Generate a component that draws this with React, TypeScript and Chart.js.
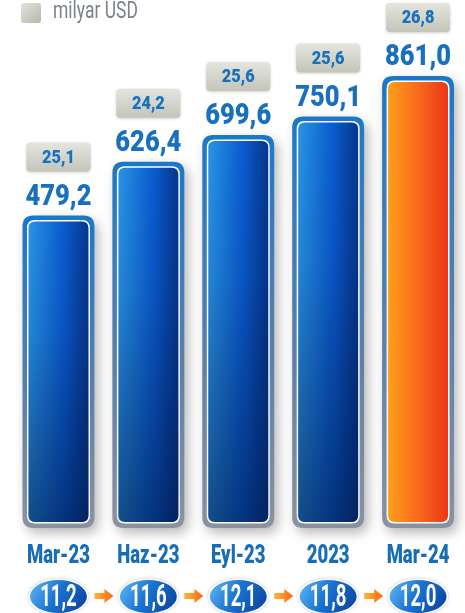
import React, { useEffect, useRef } from "react";
import { Chart, registerables } from "chart.js";

Chart.register(...registerables);

const categories = ["Mar-23", "Haz-23", "Eyl-23", "2023", "Mar-24"];
const totals = [479.2, 626.4, 699.6, 750.1, 861.0];
const boxValues = [25.1, 24.2, 25.6, 25.6, 26.8];
const ratioValues = [11.2, 11.6, 12.1, 11.8, 12.0];
const legendLabel = "milyar USD";

const Y_FLOOR = -375;
const FONT = 'Roboto, "Noto Sans", sans-serif';
const BLUE_TEXT = "#1870bf";

const fmt = (v: number) => v.toFixed(1).replace(".", ",");

function rr(ctx: CanvasRenderingContext2D, x: number, y: number, w: number, h: number, r: number) {
  ctx.beginPath();
  ctx.moveTo(x + r, y);
  ctx.lineTo(x + w - r, y);
  ctx.quadraticCurveTo(x + w, y, x + w, y + r);
  ctx.lineTo(x + w, y + h - r);
  ctx.quadraticCurveTo(x + w, y + h, x + w - r, y + h);
  ctx.lineTo(x + r, y + h);
  ctx.quadraticCurveTo(x, y + h, x, y + h - r);
  ctx.lineTo(x, y + r);
  ctx.quadraticCurveTo(x, y, x + r, y);
  ctx.closePath();
}

function condText(
  ctx: CanvasRenderingContext2D,
  str: string,
  x: number,
  y: number,
  font: string,
  color: string,
  sx: number,
  align: CanvasTextAlign = "center"
) {
  ctx.save();
  ctx.translate(x, y);
  ctx.scale(sx, 1);
  ctx.font = font;
  ctx.fillStyle = color;
  ctx.textAlign = align;
  ctx.textBaseline = "middle";
  ctx.fillText(str, 0, 0);
  ctx.restore();
}

const decorPlugin = {
  id: "decor",
  afterDatasetsDraw(chart: any) {
    const ctx: CanvasRenderingContext2D = chart.ctx;
    const meta = chart.getDatasetMeta(0);
    const n = meta.data.length;

    // legend
    ctx.save();
    const lg = ctx.createLinearGradient(21, 3, 41, 23);
    lg.addColorStop(0, "#e2e4dc");
    lg.addColorStop(1, "#b4b7ac");
    ctx.fillStyle = lg;
    rr(ctx, 21, 3, 20, 20, 3);
    ctx.fill();
    ctx.restore();
    condText(ctx, legendLabel, 53, 12, `23px ${FONT}`, "#7b828a", 0.76, "left");

    for (let i = 0; i < n; i++) {
      const el = meta.data[i];
      const w = el.width;
      const x0 = el.x - w / 2;
      const top = el.y;
      const bottom = el.base;
      const h = bottom - top;
      const isLast = i === n - 1;

      // shadow + outer frame
      ctx.save();
      ctx.shadowColor = "rgba(0,0,0,0.28)";
      ctx.shadowBlur = 12;
      ctx.shadowOffsetX = 4;
      ctx.shadowOffsetY = 5;
      const og = ctx.createLinearGradient(0, top, 0, bottom);
      og.addColorStop(0, "#1a78c8");
      og.addColorStop(Math.min(0.35, 60 / h), "#2f7bc0");
      og.addColorStop(0.55, "#5a7fa8");
      og.addColorStop(1, "#8a92a0");
      ctx.fillStyle = og;
      rr(ctx, x0, top, w, h, 11);
      ctx.fill();
      ctx.restore();

      // white line
      ctx.save();
      ctx.fillStyle = "#ffffff";
      rr(ctx, x0 + 4.5, top + 4.5, w - 9, h - 9, 8);
      ctx.fill();
      // fill
      const fx = x0 + 6, fy = top + 6, fw = w - 12, fh = h - 12;
      const hg = ctx.createLinearGradient(fx, 0, fx + fw, 0);
      if (isLast) {
        hg.addColorStop(0, "#ff9e1a");
        hg.addColorStop(0.5, "#f86a1c");
        hg.addColorStop(1, "#ec3618");
      } else {
        hg.addColorStop(0, "#2a94e4");
        hg.addColorStop(0.55, "#0a5ed0");
        hg.addColorStop(1, "#0846b0");
      }
      ctx.fillStyle = hg;
      rr(ctx, fx, fy, fw, fh, 6.5);
      ctx.fill();
      if (!isLast) {
        const vg = ctx.createLinearGradient(0, fy, 0, fy + fh);
        vg.addColorStop(0, "rgba(0,20,70,0)");
        vg.addColorStop(0.35, "rgba(0,20,70,0.1)");
        vg.addColorStop(1, "rgba(0,18,60,0.55)");
        ctx.fillStyle = vg;
        rr(ctx, fx, fy, fw, fh, 6.5);
        ctx.fill();
        const rg = ctx.createLinearGradient(fx, 0, fx + fw, 0);
        rg.addColorStop(0.6, "rgba(0,20,60,0)");
        rg.addColorStop(1, "rgba(0,20,60,0.3)");
        ctx.fillStyle = rg;
        rr(ctx, fx, fy, fw, fh, 6.5);
        ctx.fill();
      }
      ctx.restore();

      // big value label
      condText(ctx, fmt(totals[i]), el.x, top - 18, `900 29px ${FONT}`, BLUE_TEXT, 0.88);

      // grey box
      ctx.save();
      const bw = 64, bh = 29;
      const bx = el.x - bw / 2, by = top - 73;
      ctx.shadowColor = "rgba(0,0,0,0.18)";
      ctx.shadowBlur = 3;
      ctx.shadowOffsetY = 1;
      const bg = ctx.createLinearGradient(0, by, 0, by + bh);
      bg.addColorStop(0, "#e4e5de");
      bg.addColorStop(1, "#c3c5ba");
      ctx.fillStyle = bg;
      rr(ctx, bx, by, bw, bh, 4);
      ctx.fill();
      ctx.restore();
      condText(ctx, fmt(boxValues[i]), el.x, by + bh / 2 + 1, `900 19px ${FONT}`, BLUE_TEXT, 0.86);

      // category label
      condText(ctx, categories[i], el.x, 557, `900 25px ${FONT}`, "#176db6", 0.74);

      // ellipse
      const ecx = el.x, ecy = 596.5, erx = 28.5, ery = 16.5;
      ctx.save();
      ctx.shadowColor = "rgba(0,0,0,0.25)";
      ctx.shadowBlur = 3;
      ctx.beginPath();
      ctx.ellipse(ecx, ecy, erx + 1.5, ery + 1.5, 0, 0, Math.PI * 2);
      ctx.fillStyle = "#ffffff";
      ctx.fill();
      ctx.restore();
      ctx.save();
      const eg = ctx.createLinearGradient(ecx - erx, ecy - ery, ecx + erx, ecy + ery);
      eg.addColorStop(0, "#62baf6");
      eg.addColorStop(0.45, "#1a74d2");
      eg.addColorStop(1, "#0a3e9c");
      ctx.beginPath();
      ctx.ellipse(ecx, ecy, erx, ery, 0, 0, Math.PI * 2);
      ctx.fillStyle = eg;
      ctx.fill();
      ctx.restore();
      condText(ctx, fmt(ratioValues[i]), ecx, ecy + 1.5, `bold 31px ${FONT}`, "#ffffff", 0.6);

      // arrow to next
      if (i < n - 1) {
        const nx = meta.data[i + 1].x;
        const mx = (el.x + nx) / 2;
        const ay = 596;
        ctx.save();
        const ag = ctx.createLinearGradient(mx - 9, 0, mx + 10, 0);
        ag.addColorStop(0, "#ffb43a");
        ag.addColorStop(1, "#ff6410");
        ctx.fillStyle = ag;
        ctx.beginPath();
        ctx.moveTo(mx - 9, ay - 3);
        ctx.lineTo(mx + 1, ay - 3);
        ctx.lineTo(mx + 1, ay - 7);
        ctx.lineTo(mx + 10, ay);
        ctx.lineTo(mx + 1, ay + 7);
        ctx.lineTo(mx + 1, ay + 3);
        ctx.lineTo(mx - 9, ay + 3);
        ctx.closePath();
        ctx.fill();
        ctx.restore();
      }
    }
  },
};

export default function App() {
  const ref = useRef<HTMLCanvasElement>(null);
  useEffect(() => {
    document.body.style.margin = "0";
    const canvas = ref.current!;
    const chart = new Chart(canvas, {
      type: "bar",
      data: {
        labels: categories,
        datasets: [
          {
            data: totals,
            backgroundColor: "rgba(0,0,0,0)",
            borderWidth: 0,
            base: Y_FLOOR,
            barPercentage: 0.8,
            categoryPercentage: 1,
          } as any,
        ],
      },
      options: {
        responsive: false,
        maintainAspectRatio: false,
        animation: false,
        devicePixelRatio: 1,
        layout: { padding: { left: 13.5, right: 2, top: 76, bottom: 85 } },
        plugins: { legend: { display: false }, tooltip: { enabled: false } },
        scales: {
          x: { display: false },
          y: { display: false, min: Y_FLOOR, max: Math.max(...totals) },
        },
      },
      plugins: [decorPlugin],
    });
    return () => chart.destroy();
  }, []);
  return (
    <div style={{ width: 465, height: 613, background: "#ffffff" }}>
      <canvas ref={ref} width={465} height={613} style={{ display: "block" }} />
    </div>
  );
}
